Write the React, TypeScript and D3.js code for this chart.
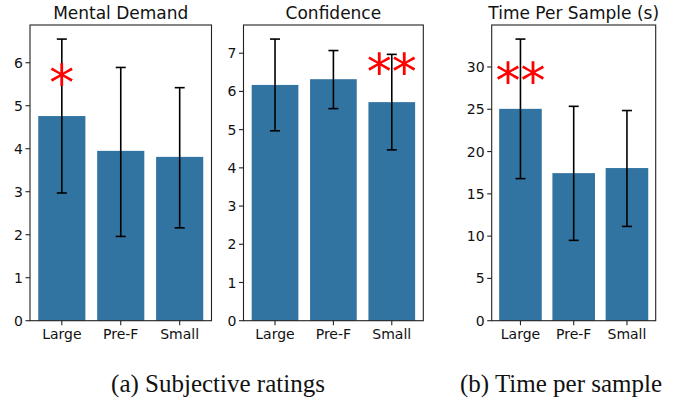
import React from "react";
import * as d3 from "d3";

const categories = ["Large", "Pre-F", "Small"];

const mentalMeans = [4.76, 3.95, 3.81];
const mentalLow = [2.97, 1.96, 2.16];
const mentalHigh = [6.55, 5.89, 5.42];

const confMeans = [6.17, 6.32, 5.72];
const confLow = [4.97, 5.55, 4.47];
const confHigh = [7.37, 7.07, 6.97];

const timeMeans = [25.05, 17.45, 18.05];
const timeLow = [16.8, 9.5, 11.15];
const timeHigh = [33.3, 25.35, 24.85];

const mentalTicks = [0, 1, 2, 3, 4, 5, 6];
const confTicks = [0, 1, 2, 3, 4, 5, 6, 7];
const timeTicks = [0, 5, 10, 15, 20, 25, 30];

const mentalStars = ["*", "", ""];
const confStars = ["", "", "**"];
const timeStars = ["**", "", ""];
const mentalStarY = [5.7, 0, 0];
const confStarY = [0, 0, 6.7];
const timeStarY = [29.2, 0, 0];

const titles = ["Mental Demand", "Confidence", "Time Per Sample (s)"];
const captions = ["(a) Subjective ratings", "(b) Time per sample"];

const BAR = "#3274a1";
const FONT = "DejaVu Sans";
const STAR_SIZE = 50;

type Panel = {
  title: string;
  means: number[];
  low: number[];
  high: number[];
  ticks: number[];
  stars: string[];
  starY: number[];
  left: number;
  right: number;
};

const panels: Panel[] = [
  { title: titles[0], means: mentalMeans, low: mentalLow, high: mentalHigh, ticks: mentalTicks, stars: mentalStars, starY: mentalStarY, left: 30, right: 211.5 },
  { title: titles[1], means: confMeans, low: confLow, high: confHigh, ticks: confTicks, stars: confStars, starY: confStarY, left: 243.5, right: 423.3 },
  { title: titles[2], means: timeMeans, low: timeLow, high: timeHigh, ticks: timeTicks, stars: timeStars, starY: timeStarY, left: 491.7, right: 655.7 },
];

const TOP = 25;
const BOTTOM = 320.7;

function PanelView({ p }: { p: Panel }) {
  const ymax = d3.max(p.high)! * 1.05;
  const y = d3.scaleLinear().domain([0, ymax]).range([BOTTOM, TOP]);
  const x = d3.scaleLinear().domain([-0.54, 2.54]).range([p.left, p.right]);
  const bw = x(0.8) - x(0);
  const capHalf = 5;
  return (
    <g>
      {p.means.map((m, i) => (
        <rect key={"b" + i} x={x(i - 0.4)} y={y(m)} width={bw} height={y(0) - y(m)} fill={BAR} />
      ))}
      {p.means.map((m, i) => (
        <g key={"e" + i} stroke="#000" strokeWidth={1.6}>
          <line x1={x(i)} x2={x(i)} y1={y(p.low[i])} y2={y(p.high[i])} />
          <line x1={x(i) - capHalf} x2={x(i) + capHalf} y1={y(p.low[i])} y2={y(p.low[i])} />
          <line x1={x(i) - capHalf} x2={x(i) + capHalf} y1={y(p.high[i])} y2={y(p.high[i])} />
        </g>
      ))}
      <rect x={p.left} y={TOP} width={p.right - p.left} height={BOTTOM - TOP} fill="none" stroke="#222" strokeWidth={1.1} />
      {p.ticks.map((t) => (
        <g key={"yt" + t}>
          <line x1={p.left - 4.5} x2={p.left} y1={y(t)} y2={y(t)} stroke="#222" strokeWidth={1.1} />
          <text x={p.left - 7} y={y(t)} dy="0.36em" textAnchor="end" fontSize={14} fontFamily={FONT} fill="#111">
            {t}
          </text>
        </g>
      ))}
      {categories.map((c, i) => (
        <g key={"xt" + i}>
          <line x1={x(i)} x2={x(i)} y1={BOTTOM} y2={BOTTOM + 4.5} stroke="#222" strokeWidth={1.1} />
          <text x={x(i)} y={BOTTOM + 18.5} textAnchor="middle" fontSize={14} fontFamily={FONT} fill="#111">
            {c}
          </text>
        </g>
      ))}
      <text x={(p.left + p.right) / 2} y={19} textAnchor="middle" fontSize={17} fontFamily={FONT} fill="#111">
        {p.title}
      </text>
      {p.stars.map((s, i) =>
        s ? (
          <text key={"s" + i} x={x(i)} y={y(p.starY[i]) + STAR_SIZE * 0.48} textAnchor="middle" fontSize={STAR_SIZE} fontFamily={FONT} fill="#ff0000">
            {s}
          </text>
        ) : null
      )}
    </g>
  );
}

export default function App() {
  return (
    <svg width={683} height={405} style={{ position: "absolute", left: 0, top: 0, background: "#fff" }}>
      <rect width={683} height={405} fill="#fff" />
      {panels.map((p, i) => (
        <PanelView key={i} p={p} />
      ))}
      <text x={218} y={391.5} textAnchor="middle" fontSize={25} fontFamily="Liberation Serif" fill="#111">
        {captions[0]}
      </text>
      <text x={561} y={391.5} textAnchor="middle" fontSize={25} fontFamily="Liberation Serif" fill="#111">
        {captions[1]}
      </text>
    </svg>
  );
}
